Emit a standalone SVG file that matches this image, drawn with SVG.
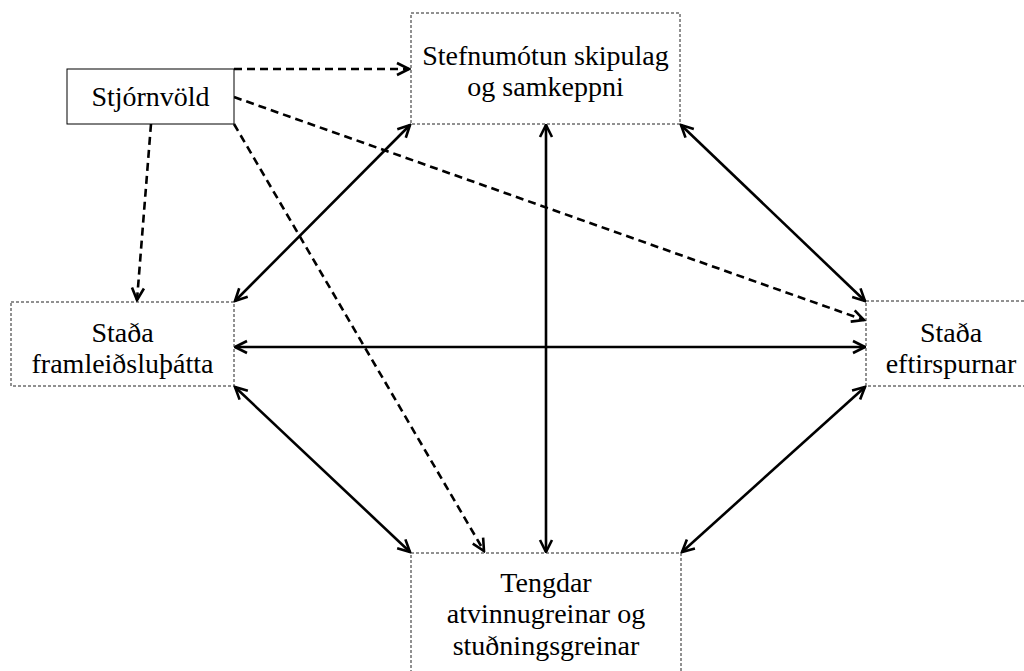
<svg xmlns="http://www.w3.org/2000/svg" width="1024" height="671" viewBox="0 0 1024 671">
<defs>
<marker id="ah" markerUnits="userSpaceOnUse" markerWidth="16" markerHeight="16" viewBox="0 0 16 16" refX="14" refY="8" orient="auto-start-reverse">
<path d="M2,2 L14,8 L2,14" fill="none" stroke="#000" stroke-width="2.6"/>
</marker>
<style>
.box{fill:#fff;stroke:#222;stroke-width:1;stroke-dasharray:3,2}
.solidbox{fill:#fff;stroke:#000;stroke-width:1}
.t{font-family:"Liberation Serif","Times New Roman",serif;font-size:28px;fill:#000;text-anchor:middle}
.c{stroke:#000;stroke-width:2.6;fill:none}
.d{stroke:#000;stroke-width:2.6;fill:none;stroke-dasharray:8,5}
</style>
</defs>
<rect width="1024" height="671" fill="#fff"/>
<g id="connectors">
<line class="d" x1="234" y1="69" x2="409" y2="69" marker-end="url(#ah)"/>
<line class="d" x1="234" y1="97" x2="864" y2="320" marker-end="url(#ah)"/>
<line class="d" x1="151" y1="124" x2="137" y2="300" marker-end="url(#ah)"/>
<line class="d" x1="234" y1="124" x2="484" y2="551" marker-end="url(#ah)"/>
<line class="c" x1="410" y1="125" x2="235" y2="301" marker-start="url(#ah)" marker-end="url(#ah)"/>
<line class="c" x1="546" y1="125" x2="546" y2="552" marker-start="url(#ah)" marker-end="url(#ah)"/>
<line class="c" x1="681" y1="125" x2="865" y2="301" marker-start="url(#ah)" marker-end="url(#ah)"/>
<line class="c" x1="235" y1="347" x2="865" y2="347" marker-start="url(#ah)" marker-end="url(#ah)"/>
<line class="c" x1="235" y1="387" x2="410" y2="552" marker-start="url(#ah)" marker-end="url(#ah)"/>
<line class="c" x1="865" y1="387" x2="682" y2="552" marker-start="url(#ah)" marker-end="url(#ah)"/>
</g>
<g id="stjornvold">
<rect class="solidbox" x="67" y="69" width="167" height="55"/>
<text class="t" x="150.5" y="106">Stjórnvöld</text>
</g>
<g id="stefnumotun">
<rect class="box" x="411" y="13" width="269" height="111"/>
<text class="t" x="545.5" y="65">Stefnumótun skipulag</text>
<text class="t" x="545.5" y="96">og samkeppni</text>
</g>
<g id="framleidsluthatta">
<rect class="box" x="11" y="302" width="223" height="84"/>
<text class="t" x="122.5" y="342">Staða</text>
<text class="t" x="122.5" y="373">framleiðsluþátta</text>
</g>
<g id="eftirspurnar">
<rect class="box" x="866" y="301" width="170" height="85"/>
<text class="t" x="951" y="342">Staða</text>
<text class="t" x="951" y="373">eftirspurnar</text>
</g>
<g id="tengdar">
<rect class="box" x="411" y="553" width="270" height="130"/>
<text class="t" x="546" y="592">Tengdar</text>
<text class="t" x="546" y="623">atvinnugreinar og</text>
<text class="t" x="546" y="655">stuðningsgreinar</text>
</g>
</svg>
